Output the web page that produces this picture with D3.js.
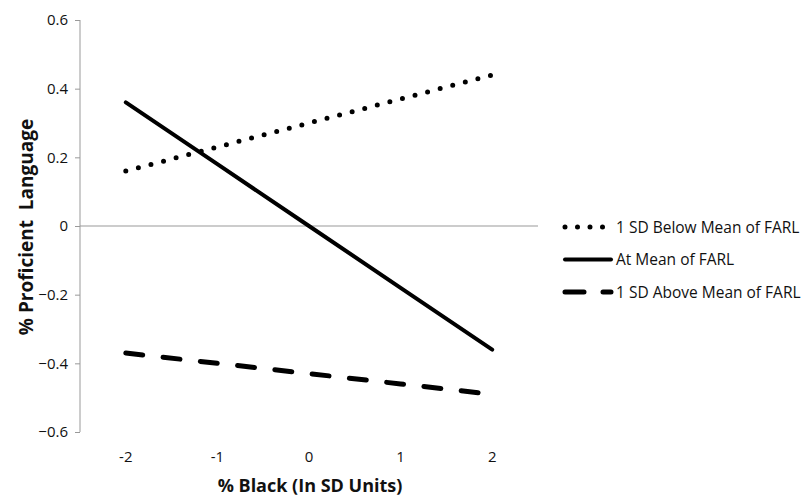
<!DOCTYPE html>
<html>
<head>
<meta charset="utf-8">
<script src="https://cdn.jsdelivr.net/npm/d3@7"></script>
<style>
	body { margin: 0; background: #fff; }
	text { font-family: "Open Sans", "Liberation Sans", sans-serif; fill: #111; }
</style>
</head>
<body>
<svg class="chart"></svg>
<script>
// Chart values
var categories = ["-2", "-1", "0", "1", "2"];
var belowMean = [0.16, 0.23, 0.30, 0.37, 0.44];
var atMean = [0.36, 0.18, 0, -0.18, -0.36];
var aboveMean = [-0.37, -0.40, -0.43, -0.46, -0.49];
var seriesNames = ["1 SD Below Mean of FARL", "At Mean of FARL", "1 SD Above Mean of FARL"];
var yTicks = [-0.6, -0.4, -0.2, 0, 0.2, 0.4, 0.6];

var svgWidth = 805,
	svgHeight = 498;

var chart = d3.select( ".chart" )
	.attr( "width", svgWidth )
	.attr( "height", svgHeight );

var chartX = 80,
	chartY = 20,
	chartWidth = 458,
	chartHeight = 412;

var x = d3.scalePoint()
	.domain( categories )
	.range( [chartX, chartX + chartWidth] )
	.padding( 0.5 );

var y = d3.scaleLinear()
	.domain( [-0.6, 0.6] )
	.range( [chartY + chartHeight, chartY] );

// y axis
var yAxis = chart.append( "g" )
	.attr( "transform", "translate(" + chartX + ",0)" )
	.call( d3.axisLeft( y ).tickValues( yTicks ).tickSize( 5 ).tickPadding( 7 )
		.tickFormat( function(d) { return d === 0 ? "0" : d3.format( ".1f" )( d ); } ) );
yAxis.select( ".domain" ).attr( "stroke", "#999" ).attr( "d", "M0," + y(-0.6) + "V" + y(0.6) );
yAxis.selectAll( ".tick line" ).attr( "stroke", "#999" );
yAxis.selectAll( "text" ).style( "font-size", "15px" ).attr( "fill", "#111" );

// zero line
chart.append( "line" )
	.attr( "x1", chartX ).attr( "x2", chartX + chartWidth )
	.attr( "y1", y(0) ).attr( "y2", y(0) )
	.attr( "stroke", "#999" ).attr( "stroke-width", 1 );

// x tick labels
chart.selectAll( ".xlabel" )
	.data( categories )
	.enter()
	.append( "text" )
	.attr( "x", function(d) { return x(d); } )
	.attr( "y", 462 )
	.attr( "text-anchor", "middle" )
	.style( "font-size", "15px" )
	.text( function(d) { return d; } );

// axis titles
chart.append( "text" )
	.attr( "x", 310 )
	.attr( "y", 492 )
	.attr( "text-anchor", "middle" )
	.style( "font-size", "18px" )
	.style( "font-weight", "bold" )
	.text( "% Black (In SD Units)" );

chart.append( "text" )
	.attr( "transform", "translate(33,227) rotate(-90)" )
	.attr( "text-anchor", "middle" )
	.style( "font-size", "19px" )
	.style( "font-weight", "bold" )
	.style( "white-space", "pre" )
	.text( "% Proficient  Language" );

var styles = [
	{ dash: "0,13", width: 5 },
	{ dash: null, width: 4 },
	{ dash: "17,20.5", width: 5 }
];
var series = [belowMean, atMean, aboveMean];

var line = d3.line()
	.x( function(d, i) { return x( categories[i] ); } )
	.y( function(d) { return y(d); } );

chart.selectAll( ".series" )
	.data( series )
	.enter()
	.append( "path" )
	.attr( "d", line )
	.attr( "fill", "none" )
	.attr( "stroke", "#000" )
	.attr( "stroke-linecap", "round" )
	.attr( "stroke-width", function(d, i) { return styles[i].width; } )
	.attr( "stroke-dasharray", function(d, i) { return styles[i].dash; } );

// legend
var legend = chart.selectAll( ".legend" )
	.data( seriesNames )
	.enter()
	.append( "g" )
	.attr( "transform", function(d, i) { return "translate(565," + (227 + i * 32.5) + ")"; } );

legend.append( "line" )
	.attr( "x1", 0 )
	.attr( "x2", 46 )
	.attr( "stroke", "#000" )
	.attr( "stroke-linecap", "round" )
	.attr( "stroke-width", function(d, i) { return styles[i].width; } )
	.attr( "stroke-dasharray", function(d, i) { return i === 0 ? "0,12.5" : (i === 2 ? "19,19" : null); } );

legend.append( "text" )
	.attr( "x", 51 )
	.attr( "y", 5.5 )
	.style( "font-size", "15.5px" )
	.text( function(d) { return d; } );
</script>
</body>
</html>
